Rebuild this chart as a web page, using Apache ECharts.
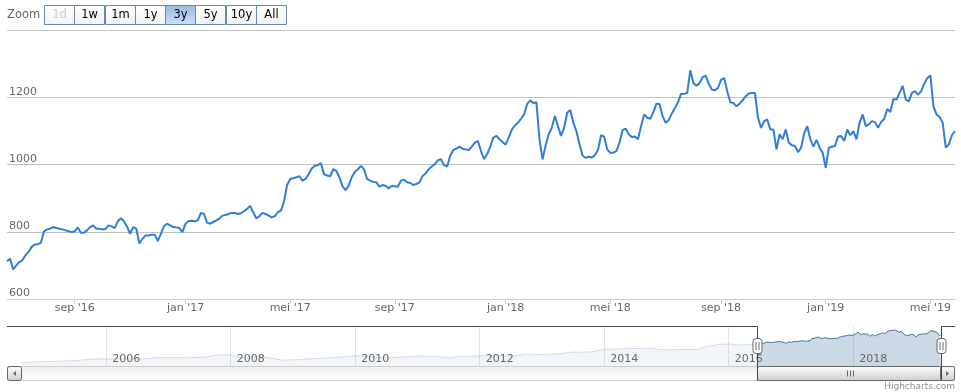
<!DOCTYPE html>
<html><head><meta charset="utf-8">
<script src="https://cdn.jsdelivr.net/npm/echarts@6/dist/echarts.min.js"></script>
<style>html,body{margin:0;padding:0;background:#fff}#c{width:961px;height:392px}</style>
</head><body><div id="c"></div>
<script>
// ---- data: Friday closes plus a mid-week close in between ----
const dates2016 = ['2016-06-17','2016-06-24','2016-07-01','2016-07-08','2016-07-15','2016-07-22','2016-07-29','2016-08-05','2016-08-12','2016-08-19','2016-08-26','2016-09-02','2016-09-09','2016-09-16','2016-09-23','2016-09-30','2016-10-07','2016-10-14','2016-10-21','2016-10-28','2016-11-04','2016-11-11','2016-11-18','2016-11-25','2016-12-02','2016-12-09','2016-12-16','2016-12-23','2016-12-30'];
const dates2017 = ['2017-01-06','2017-01-13','2017-01-20','2017-01-27','2017-02-03','2017-02-10','2017-02-17','2017-02-24','2017-03-03','2017-03-10','2017-03-17','2017-03-24','2017-03-31','2017-04-07','2017-04-14','2017-04-21','2017-04-28','2017-05-05','2017-05-12','2017-05-19','2017-05-26','2017-06-02','2017-06-09','2017-06-16','2017-06-23','2017-06-30','2017-07-07','2017-07-14','2017-07-21','2017-07-28','2017-08-04','2017-08-11','2017-08-18','2017-08-25','2017-09-01','2017-09-08','2017-09-15','2017-09-22','2017-09-29','2017-10-06','2017-10-13','2017-10-20','2017-10-27','2017-11-03','2017-11-10','2017-11-17','2017-11-24','2017-12-01','2017-12-08','2017-12-15','2017-12-22','2017-12-29'];
const dates2018 = ['2018-01-05','2018-01-12','2018-01-19','2018-01-26','2018-02-02','2018-02-09','2018-02-16','2018-02-23','2018-03-02','2018-03-09','2018-03-16','2018-03-23','2018-03-30','2018-04-06','2018-04-13','2018-04-20','2018-04-27','2018-05-04','2018-05-11','2018-05-18','2018-05-25','2018-06-01','2018-06-08','2018-06-15','2018-06-22','2018-06-29','2018-07-06','2018-07-13','2018-07-20','2018-07-27','2018-08-03','2018-08-10','2018-08-17','2018-08-24','2018-08-31','2018-09-07','2018-09-14','2018-09-21','2018-09-28','2018-10-05','2018-10-12','2018-10-19','2018-10-26','2018-11-02','2018-11-09','2018-11-16','2018-11-23','2018-11-30','2018-12-07','2018-12-14','2018-12-21','2018-12-28'];
const dates2019 = ['2019-01-04','2019-01-11','2019-01-18','2019-01-25','2019-02-01','2019-02-08','2019-02-15','2019-02-22','2019-03-01','2019-03-08','2019-03-15','2019-03-22','2019-03-29','2019-04-05','2019-04-12','2019-04-19','2019-04-26','2019-05-03','2019-05-10','2019-05-17','2019-05-24','2019-05-31'];

const fridayPrices2016 = [712,688,710,730,755,763,801,809,811,807,802,801,797,804,819,809,808,816,831,831,794,809,779,789,791,794,824,814,811];
const fridayPrices2017 = [824,833,834,853,824,834,848,853,856,855,868,857,846,853,843,858,890,957,962,952,971,996,1004,967,986,962,924,962,986,986,952,947,939,929,935,952,947,939,947,973,994,1012,998,1026,1047,1047,1043,1065,1040,1031,1080,1075];
const fridayPrices2018 = [1059,1104,1124,1149,1191,1185,1015,1090,1144,1085,1154,1124,1060,1020,1021,1043,1083,1035,1040,1102,1090,1083,1114,1139,1156,1180,1124,1152,1185,1210,1280,1234,1260,1240,1221,1252,1218,1183,1181,1203,1213,1139,1129,1104,1045,1075,1065,1055,1050,1114,1053,1050];
const fridayPrices2019 = [990,1053,1083,1070,1087,1075,1149,1119,1126,1126,1165,1195,1213,1193,1213,1208,1240,1265,1149,1124,1060,1099];

// mid-week (Tuesday) closes following each Friday above
const midPrices2016 = [720,700,715,740,762,767,807,814,809,804,799,813,797,814,809,807,819,811,840,815,814,765,789,791,772,816,819,813,799];
const midPrices2017 = [832,831,856,827,829,839,850,856,853,861,877,840,856,848,846,863,939,959,965,957,988,998,971,965,981,935,937,978,996,957,948,934,937,937,934,955,945,942,966,986,1001,1016,994,1043,1053,1045,1053,1070,1016,1053,1085,1067];
const midPrices2018 = [1080,1116,1136,1180,1183,1075,1057,1109,1114,1109,1162,1099,1026,1023,1028,1087,1045,1035,1065,1107,1082,1075,1149,1136,1181,1144,1132,1168,1210,1213,1242,1242,1264,1223,1228,1257,1185,1173,1191,1211,1213,1109,1134,1104,1090,1104,1057,1037,1093,1075,1073,1035];
const midPrices2019 = [1050,1055,1085,1104,1099,1124,1114,1129,1109,1136,1156,1193,1234,1188,1218,1218,1257,1173,1141,1050,1087];

// older history, only shown in the navigator
const historyDates = ['2004-08-19','2004-11-01',
 '2005-02-01','2005-05-02','2005-08-01','2005-11-01',
 '2006-02-01','2006-05-01','2006-08-01','2006-11-01',
 '2007-02-01','2007-05-01','2007-08-01','2007-11-01',
 '2008-01-02','2008-03-03','2008-05-01','2008-08-01','2008-11-03',
 '2009-02-02','2009-05-01','2009-08-03','2009-11-02',
 '2010-01-04','2010-04-01','2010-07-01','2010-10-01',
 '2011-01-03','2011-04-01','2011-07-01','2011-10-03',
 '2012-01-03','2012-04-02','2012-07-02','2012-10-01',
 '2013-01-02','2013-04-01','2013-07-01','2013-10-01',
 '2014-01-02','2014-04-01','2014-07-01','2014-10-01',
 '2015-01-02','2015-04-01','2015-07-01','2015-08-03','2015-11-02',
 '2016-01-04','2016-03-01','2016-05-02','2016-06-10'];
const historyPrices = [54,90,
 95,115,145,190,
 185,200,190,240,
 240,235,255,350,
 330,220,290,240,145,
 165,200,225,270,
 310,280,225,260,
 300,290,240,290,
 300,320,290,370,
 355,380,440,440,
 540,555,575,570,
 525,540,540,630,720,
 740,700,720,720];

const yTicks = [600, 800, 1000, 1200, 1400];
const monthNames = ['jan','feb','mrt','apr','mei','jun','jul','aug','sep','okt','nov','dec'];
const labelMonths = [0, 4, 8];
const navYears = [2006, 2008, 2010, 2012, 2014, 2016, 2018];
const rangeButtons = ['1d','1w','1m','1y','3y','5y','10y','All'];
const selectedButton = '3y';
const disabledButtons = ['1d'];

// ---- build ----
const ts = s => echarts.time.parse(s).getTime();
const fridays = dates2016.concat(dates2017, dates2018, dates2019);
const fridayPrices = fridayPrices2016.concat(fridayPrices2017, fridayPrices2018, fridayPrices2019);
const midPrices = midPrices2016.concat(midPrices2017, midPrices2018, midPrices2019);
function plusDays(s, n) {
  const d = new Date(ts(s) + n * 86400000);
  return echarts.time.format(d, '{yyyy}-{MM}-{dd}', false);
}
const categories = [], prices = [], isFriday = [];
fridays.forEach((d, i) => {
  categories.push(d); prices.push(fridayPrices[i]); isFriday.push(true);
  if (i < midPrices.length) { categories.push(plusDays(d, 4)); prices.push(midPrices[i]); isFriday.push(false); }
});

const navDates = historyDates.concat(categories);
const navValues = historyPrices.concat(prices);
const navData = navDates.map((d, i) => [ts(d), navValues[i]]);
const navMin = Math.min(...navValues), navMax = Math.max(...navValues);
const navPad = (navMax - navMin) * 0.1;
const yearTs = navYears.map(y => ts(y + '-01-01'));
const FONT = '"DejaVu Sans", Verdana, sans-serif';

function isLabelIdx(i) {
  if (!isFriday[i]) return false;
  const d = categories[i];
  const m = +d.slice(5, 7) - 1, day = +d.slice(8, 10);
  return labelMonths.indexOf(m) >= 0 && day <= 7;
}
function fmtMonth(v) {
  const m = +v.slice(5, 7) - 1;
  return monthNames[m] + " '" + v.slice(2, 4);
}
function fmtYear(v) {
  let best = navYears[0], bd = Infinity;
  yearTs.forEach((t, i) => { const d = Math.abs(t - v); if (d < bd) { bd = d; best = navYears[i]; } });
  return String(best);
}

const chart = echarts.init(document.getElementById('c'));
chart.setOption({
  animation: false,
  grid: [
    { left: 7, right: 6, top: 30, height: 269 },
    { left: 21, right: 20, top: 326, height: 40 }
  ],
  xAxis: [
    {
      type: 'category', gridIndex: 0, data: categories, boundaryGap: false,
      axisLine: { lineStyle: { color: '#C0D0E0', width: 1 } },
      axisTick: { interval: isLabelIdx, length: 5, lineStyle: { color: '#C0D0E0' } },
      axisLabel: { interval: isLabelIdx, formatter: fmtMonth, color: '#666', fontSize: 11, fontFamily: FONT, margin: 4 },
      splitLine: { show: false }
    },
    {
      type: 'value', gridIndex: 1, min: navData[0][0], max: navData[navData.length - 1][0], z: 4,
      axisLine: { show: false },
      axisTick: { show: false, customValues: yearTs },
      axisLabel: {
        inside: true, customValues: yearTs, align: 'left', verticalAlign: 'bottom',
        padding: [0, 0, 0, 6], margin: 1, color: '#666', fontSize: 11, fontFamily: FONT,
        formatter: fmtYear
      },
      splitLine: { show: true, lineStyle: { color: 'rgba(0,0,0,0.1)', width: 1 } }
    }
  ],
  yAxis: [
    {
      type: 'value', gridIndex: 0, min: yTicks[0], max: yTicks[yTicks.length - 1], interval: yTicks[1] - yTicks[0],
      axisLine: { show: false }, axisTick: { show: false },
      splitLine: { lineStyle: { color: '#C0C0C0', width: 1 } },
      axisLabel: { inside: true, showMaxLabel: false, margin: 2, align: 'left', verticalAlign: 'bottom',
        color: '#666', fontSize: 11, fontFamily: FONT, formatter: v => String(v) }
    },
    { type: 'value', gridIndex: 1, min: navMin - navPad, max: navMax + navPad, show: false }
  ],
  series: [
    {
      type: 'line', xAxisIndex: 0, yAxisIndex: 0, data: prices, symbol: 'none', z: 3,
      lineStyle: { color: '#2f7ed8', width: 2 }, itemStyle: { color: '#2f7ed8' }
    },
    {
      type: 'line', xAxisIndex: 1, yAxisIndex: 1, data: navData, symbol: 'none', z: 2,
      lineStyle: { color: '#4572A7', width: 1 }, itemStyle: { color: '#4572A7' },
      areaStyle: { color: 'rgba(69,114,167,0.4)', origin: 'start' }
    }
  ]
});

function grad(a, b) {
  return new echarts.graphic.LinearGradient(0, 0, 0, 1, [{ offset: 0, color: a }, { offset: 1, color: b }]);
}

(function buildChrome() {
  const px = v => chart.convertToPixel({ xAxisIndex: 1 }, v);
  const selL = Math.round(px(ts(categories[0]))) + 0.5;
  const selR = Math.round(px(ts(categories[categories.length - 1]))) + 0.5;
  const navL = px(navData[0][0]);
  const navR = px(navData[navData.length - 1][0]);
  const navTop = 326, navH = 40, sbTop = 366.5, sbH = 14, outerL = 7, outerR = 955;
  const els = [];
  els.push({ type: 'rect', z: 3, silent: true, shape: { x: navL, y: navTop, width: selL - navL, height: navH }, style: { fill: 'rgba(255,255,255,0.75)' } });
  els.push({ type: 'rect', z: 3, silent: true, shape: { x: selR, y: navTop, width: navR - selR, height: navH }, style: { fill: 'rgba(255,255,255,0.75)' } });
  els.push({ type: 'rect', z: 5, shape: { x: outerL + 0.5, y: sbTop, width: outerR - outerL - 1, height: sbH }, style: { fill: grad('#EEE', '#FFF'), stroke: '#CCC', lineWidth: 1 } });
  els.push({ type: 'rect', z: 6, shape: { x: selL, y: sbTop, width: selR - selL, height: sbH, r: 2 }, style: { fill: grad('#FFF', '#CCC'), stroke: '#666', lineWidth: 1 } });
  const cx = Math.round((selL + selR) / 2) + 0.5;
  [-3, 0, 3].forEach(d => els.push({ type: 'line', z: 7, shape: { x1: cx + d, y1: sbTop + 4, x2: cx + d, y2: sbTop + 10 }, style: { stroke: '#666', lineWidth: 1 } }));
  els.push({ type: 'rect', z: 7, shape: { x: outerL + 0.5, y: sbTop, width: 14, height: sbH, r: 2 }, style: { fill: grad('#FFF', '#CCC'), stroke: '#666', lineWidth: 1 } });
  els.push({ type: 'polygon', z: 8, shape: { points: [[outerL + 9, sbTop + 4.5], [outerL + 9, sbTop + 9.5], [outerL + 6, sbTop + 7]] }, style: { fill: '#666' } });
  els.push({ type: 'rect', z: 7, shape: { x: outerR - 14.5, y: sbTop, width: 14, height: sbH, r: 2 }, style: { fill: grad('#FFF', '#CCC'), stroke: '#666', lineWidth: 1 } });
  els.push({ type: 'polygon', z: 8, shape: { points: [[outerR - 9, sbTop + 4.5], [outerR - 9, sbTop + 9.5], [outerR - 6, sbTop + 7]] }, style: { fill: '#666' } });
  els.push({ type: 'polyline', z: 9, shape: { points: [[outerL, navTop + 0.5], [selL, navTop + 0.5], [selL, sbTop + sbH]] }, style: { stroke: '#444', lineWidth: 1, fill: null } });
  els.push({ type: 'polyline', z: 9, shape: { points: [[selR, sbTop + sbH], [selR, navTop + 0.5], [outerR, navTop + 0.5]] }, style: { stroke: '#444', lineWidth: 1, fill: null } });
  [selL, selR].forEach(hx => {
    const hy = navTop + navH / 2 - 8;
    els.push({ type: 'rect', z: 10, shape: { x: hx - 4.5, y: hy + 0.5, width: 9, height: 15, r: 3 }, style: { fill: '#FFF', stroke: '#666', lineWidth: 1 } });
    els.push({ type: 'line', z: 11, shape: { x1: hx - 1.5, y1: hy + 4, x2: hx - 1.5, y2: hy + 12 }, style: { stroke: '#666', lineWidth: 1 } });
    els.push({ type: 'line', z: 11, shape: { x1: hx + 1.5, y1: hy + 4, x2: hx + 1.5, y2: hy + 12 }, style: { stroke: '#666', lineWidth: 1 } });
  });
  els.push({ type: 'text', z: 10, style: { text: 'Zoom', x: 7, y: 15, fill: '#666', font: '11.5px ' + FONT, align: 'left', verticalAlign: 'middle', textAlign: 'left', textVerticalAlign: 'middle' } });
  rangeButtons.forEach((t, i) => {
    const bx = Math.round(44 + i * 30.25) + 0.5;
    const sel = t === selectedButton, dis = disabledButtons.indexOf(t) >= 0;
    els.push({ type: 'rect', z: 10, shape: { x: bx, y: 5.5, width: 30, height: 19 }, style: { fill: sel ? grad('#9BD', '#CDF') : grad('#FFFFFF', '#F2F2F2'), stroke: '#68A', lineWidth: 1 } });
    els.push({ type: 'text', z: 11, style: { text: t, x: bx + 15, y: 15.5, fill: dis ? '#CCC' : '#000', font: '11.5px ' + FONT, align: 'center', verticalAlign: 'middle', textAlign: 'center', textVerticalAlign: 'middle' } });
  });
  els.push({ type: 'text', z: 10, style: { text: 'Highcharts.com', x: outerR, y: 387, fill: '#909090', font: '9px ' + FONT, align: 'right', verticalAlign: 'middle', textAlign: 'right', textVerticalAlign: 'middle' } });
  chart.setOption({ graphic: { elements: els } });
})();
</script>
</body></html>
